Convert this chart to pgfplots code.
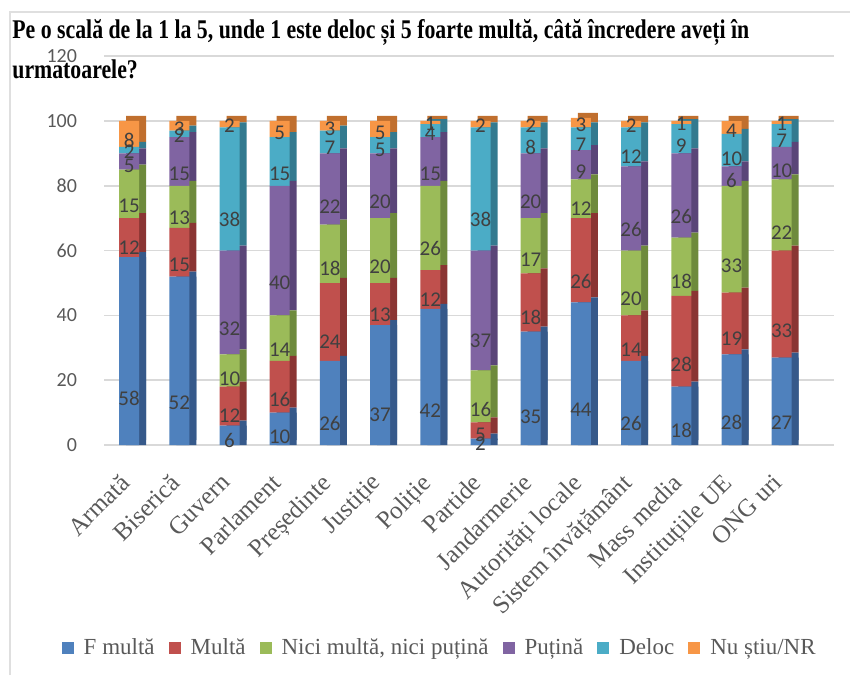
\documentclass[border=0pt]{standalone}
\usepackage{pgfplots}
\usepackage{pgfplotstable}
\pgfplotsset{compat=1.18}
\usepackage{fontspec}
\setmainfont{Liberation Serif}
\newfontfamily\lbl{Carlito}
\definecolor{cA}{HTML}{4F81BD}
\definecolor{cB}{HTML}{C0504D}
\definecolor{cC}{HTML}{9BBB59}
\definecolor{cD}{HTML}{8064A2}
\definecolor{cE}{HTML}{4BACC6}
\definecolor{cF}{HTML}{F79646}
\definecolor{dA}{HTML}{36598A}
\definecolor{dB}{HTML}{8A3533}
\definecolor{dC}{HTML}{6E8A3C}
\definecolor{dD}{HTML}{5A4578}
\definecolor{dE}{HTML}{337A8F}
\definecolor{dF}{HTML}{C06F2E}
\definecolor{txt}{HTML}{404040}
\definecolor{lab}{HTML}{595959}
\pgfplotstableread{
x F M N P D NR
0 58 12 15 5 2 8
1 52 15 13 15 2 3
2 6 12 10 32 38 2
3 10 16 14 40 15 5
4 26 24 18 22 7 3
5 37 13 20 20 5 5
6 42 12 26 15 4 1
7 2 5 16 37 38 2
8 35 18 17 20 8 2
9 44 26 12 9 7 3
10 26 14 20 26 12 2
11 18 28 18 26 9 1
12 28 19 33 6 10 4
13 27 33 22 10 7 1
}\data
\pgfplotsset{base/.style={
  x=25.1pt, y=1.62pt,
  xmin=-0.5, xmax=14.05, ymin=0, ymax=120,
  anchor=south west,
  /pgf/number format/assume math mode=true,
}}
\begin{document}
\begin{tikzpicture}
\useasboundingbox (0,0) rectangle (425pt,337.5pt);
\draw[gray!25, line width=0.6pt] (5pt,0) -- (5pt,331.5pt) -- (425pt,331.5pt);
% grid and tick labels
\begin{axis}[base, at={(52pt,115pt)},
  axis line style={draw=none}, tick style={draw=none},
  ymajorgrids, grid style={gray!30, line width=0.8pt},
  ytick={0,20,...,120},
  yticklabel style={font=\lbl\fontsize{10}{12}\selectfont, text=lab, xshift=-10pt},
  xtick={0,...,13},
  xticklabels={Armată,Biserică,Guvern,Parlament,Președinte,Justiție,Poliție,Partide,Jandarmerie,Autorități locale,Sistem învățământ,Mass media,Instituțiile UE,ONG uri},
  xticklabel style={font=\fontsize{12.5}{14}\selectfont, text=lab, inner sep=1pt, xshift=-5pt, yshift=-12pt, rotate=45, anchor=north east},
]
\addplot[draw=none] coordinates {(0,0)};
\end{axis}
% side faces down to the ground
\begin{axis}[base, at={(55.5pt,115pt)}, hide axis, ybar stacked, bar width=10pt]
\addplot[fill=dA, draw=none] table[x=x,y=F] {\data};
\end{axis}
% back faces (3D depth)
\begin{axis}[base, at={(55.5pt,117.5pt)}, hide axis, ybar stacked, bar width=10pt]
\addplot[fill=dA, draw=none] table[x=x,y=F] {\data};
\addplot[fill=dB, draw=none] table[x=x,y=M] {\data};
\addplot[fill=dC, draw=none] table[x=x,y=N] {\data};
\addplot[fill=dD, draw=none] table[x=x,y=P] {\data};
\addplot[fill=dE, draw=none] table[x=x,y=D] {\data};
\addplot[fill=dF, draw=none] table[x=x,y=NR] {\data};
\end{axis}
% front faces
\begin{axis}[base, at={(52pt,115pt)}, hide axis, ybar stacked, bar width=10pt,
  point meta=rawy,
  visualization depends on=rawy \as \rawy,
  nodes near coords={\pgfmathprintnumber{\pgfplotspointmeta}},
  every node near coord/.append style={anchor=center, yshift=-\rawy*0.405pt, font=\lbl\fontsize{10.5}{12}\selectfont, text=txt, inner sep=0pt},
  legend style={at={(0.461,-0.522)}, anchor=center, draw=none, fill=none,
    font=\fontsize{11.5}{13}\selectfont, text=lab, legend columns=-1,
    /tikz/every even column/.append style={column sep=5pt},
    /tikz/every odd column/.append style={column sep=3pt}},
  legend image code/.code={\fill[#1] (0pt,-3pt) rectangle (6pt,3pt);},
]
\addplot[fill=cA, draw=none] table[x=x,y=F] {\data};
\addplot[fill=cB, draw=none] table[x=x,y=M] {\data};
\addplot[fill=cC, draw=none] table[x=x,y=N] {\data};
\addplot[fill=cD, draw=none] table[x=x,y=P] {\data};
\addplot[fill=cE, draw=none] table[x=x,y=D] {\data};
\addplot[fill=cF, draw=none] table[x=x,y=NR] {\data};
\legend{F multă, Multă, {Nici multă, nici puțină}, Puțină, Deloc, Nu știu/NR}
\end{axis}
\node[anchor=base west, inner sep=0pt] at (6pt,318pt) {\scalebox{0.807}[1]{\fontsize{13.5}{16}\selectfont\bfseries Pe o scală de la 1 la 5, unde 1 este deloc și 5 foarte multă, câtă încredere aveți în}};
\node[anchor=base west, inner sep=0pt] at (6pt,298pt) {\scalebox{0.807}[1]{\fontsize{13.5}{16}\selectfont\bfseries urmatoarele?}};
\end{tikzpicture}
\end{document}
